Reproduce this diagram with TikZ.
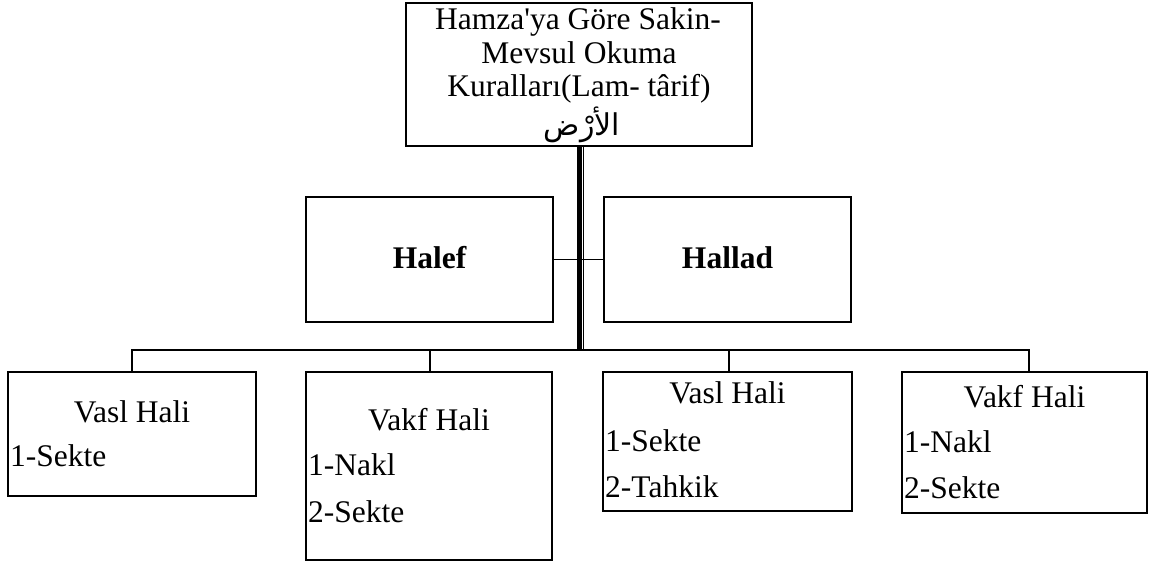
\documentclass[tikz,border=0pt]{standalone}
\usepackage{fontspec}
% family without TeX ligatures, so the apostrophe stays straight
\newfontfamily\tnr{Liberation Serif}
\newfontfamily\arabicfont[Script=Arabic]{DejaVu Sans}
\TeXXeTstate=1
\begin{document}
\begin{tikzpicture}[x=1pt,y=-1pt,
  box/.style={draw, rectangle, line width=1.8pt, inner sep=0pt},
  txt/.style={inner sep=0pt, anchor=base, font=\tnr\fontsize{31.5pt}{34pt}\selectfont},
  bold/.style={txt, font=\tnr\fontsize{31.5pt}{34pt}\selectfont\bfseries},
  item/.style={txt, anchor=base west},
  link/.style={line width=1.8pt}]
\useasboundingbox (0,0) rectangle (1150,562);

% boxes
\node[box, minimum width=346pt, minimum height=143pt] (top) at (579,74.5) {};
\node[box, minimum width=247pt, minimum height=125pt] (halef) at (429.5,259.5) {};
\node[box, minimum width=247pt, minimum height=125pt] (hallad) at (727.5,259.5) {};
\node[box, minimum width=248pt, minimum height=124pt] (b1) at (132,434) {};
\node[box, minimum width=246pt, minimum height=188pt] (b2) at (429,466) {};
\node[box, minimum width=249pt, minimum height=139pt] (b3) at (727.5,441.5) {};
\node[box, minimum width=245pt, minimum height=141pt] (b4) at (1024.5,442.5) {};

% title
\node[txt] (t1) at (578,29.5) {Hamza'ya Göre Sakin-};
\node[txt] (t2) at (579,63) {Mevsul Okuma};
\node[txt] (t3) at (579,96) {Kuralları(Lam- târif)};
\node[txt, font=\arabicfont\fontsize{30pt}{34pt}\selectfont] (t4) at (582,135.5) {\beginR الأرْض\endR};

% branches
\node[bold] (l1) at (429.5,268) {Halef};
\node[bold] (l2) at (727.5,268) {Hallad};

% cases
\node[txt] (h1) at (132,422) {Vasl Hali};
\node[item] (h1a) at (10,466) {1-Sekte};

\node[txt] (h2) at (429,430) {Vakf Hali};
\node[item] (h2a) at (308,475) {1-Nakl};
\node[item] (h2b) at (308,522) {2-Sekte};

\node[txt] (h3) at (727.5,403) {Vasl Hali};
\node[item] (h3a) at (605,451) {1-Sekte};
\node[item] (h3b) at (605,497) {2-Tahkik};

\node[txt] (h4) at (1024.5,407) {Vakf Hali};
\node[item] (h4a) at (904,452) {1-Nakl};
\node[item] (h4b) at (904,498) {2-Sekte};

% connectors
\coordinate (hub) at (579,350);
\draw[line width=4.7pt] ([xshift=0.7pt]top.south) -- ([xshift=0.7pt]hub);
\draw[line width=1.2pt] ([xshift=4.5pt]top.south) -- ([xshift=4.5pt]hub);
\draw[link] (halef.east) -- (hallad.west);
\draw[link] (b1.north) |- ([xshift=4.5pt]b4.north |- hub) -- ([xshift=4.5pt]b4.north);
\draw[link] ([xshift=1pt]b2.north) -- ([xshift=1pt]b2.north |- hub);
\draw[link] ([xshift=1.5pt]b3.north) -- ([xshift=1.5pt]b3.north |- hub);
\end{tikzpicture}
\end{document}
